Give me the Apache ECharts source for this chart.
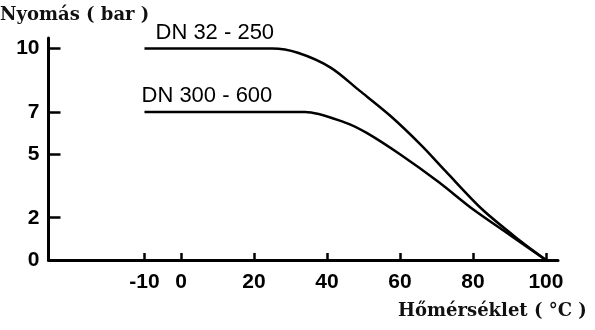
<!DOCTYPE html>
<html>
<head>
<meta charset="utf-8">
<script src="https://cdn.jsdelivr.net/npm/echarts@6/dist/echarts.min.js"></script>
<style>
html,body{margin:0;padding:0;background:#fff;}
#chart{width:595px;height:330px;}
</style>
</head>
<body>
<div id="chart"></div>
<script>
// Data
var xTicks = [-10, 0, 20, 40, 60, 80, 100];
var yTicks = [0, 2, 5, 7, 10];
var seriesNames = ['DN 32 - 250', 'DN 300 - 600'];
var temps1 = [-10, 25, 32, 41, 49, 57.5, 66, 72.5, 82.5, 93, 100];
var press1 = [10, 10, 9.8, 9.1, 8.0, 6.8, 5.4, 4.2, 2.4, 0.9, 0];
var temps2 = [-10, 34, 45, 51, 60, 70.5, 80, 90, 100];
var press2 = [7, 7, 6.5, 6.0, 5.0, 3.7, 2.4, 1.2, 0];
var yTitle = 'Nyomás ( bar )';
var xTitle = 'Hőmérséklet ( °C )';

function build(ts, ps, labelOffset) {
  return ts.map(function (t, i) {
    var item = { value: [t, ps[i]] };
    if (i === 0) {
      item.label = {
        show: true, position: 'top', align: 'left', offset: labelOffset,
        formatter: '{a}', fontFamily: 'Liberation Sans', fontSize: 22, color: '#000'
      };
    }
    return item;
  });
}

var chart = echarts.init(document.getElementById('chart'), null, { renderer: 'canvas' });
var serifBold = { fontFamily: 'DejaVu Serif', fontWeight: 'bold', fontSize: 18, color: '#111' };
var tickFont = { fontFamily: 'Liberation Sans', fontWeight: 'bold', fontSize: 21, color: '#000' };
chart.setOption({
  animation: false,
  backgroundColor: '#fff',
  title: [
    { text: yTitle, left: 0, top: 6, padding: 0, textStyle: serifBold },
    { text: xTitle, left: 398, top: 302, padding: 0, textStyle: serifBold }
  ],
  grid: { left: 48.5, right: 37, top: 38, bottom: 70, containLabel: false },
  xAxis: {
    type: 'value', min: -36.3, max: 103.3,
    axisLine: { onZero: false, lineStyle: { color: '#000', width: 3 } },
    splitLine: { show: false },
    axisTick: { inside: true, length: 7, lineStyle: { color: '#000', width: 2.5 }, customValues: xTicks.slice() },
    axisLabel: Object.assign({ customValues: xTicks.slice(), margin: 12 }, tickFont)
  },
  yAxis: {
    type: 'value', min: 0, max: 10.5,
    axisLine: { show: true, onZero: false, lineStyle: { color: '#000', width: 3 } },
    splitLine: { show: false },
    axisTick: { show: true, inside: true, length: 12, lineStyle: { color: '#000', width: 2.5 }, customValues: yTicks.slice() },
    axisLabel: Object.assign({ customValues: yTicks.slice(), margin: 9 }, tickFont)
  },
  series: [
    {
      name: seriesNames[0], type: 'line', smooth: 0.3,
      symbol: 'circle', symbolSize: 0, showSymbol: true,
      lineStyle: { color: '#000', width: 2.5 },
      label: { show: false },
      data: build(temps1, press1, [11, 0])
    },
    {
      name: seriesNames[1], type: 'line', smooth: 0.3,
      symbol: 'circle', symbolSize: 0, showSymbol: true,
      lineStyle: { color: '#000', width: 2.5 },
      label: { show: false },
      data: build(temps2, press2, [-3, 0])
    }
  ]
});
</script>
</body>
</html>
